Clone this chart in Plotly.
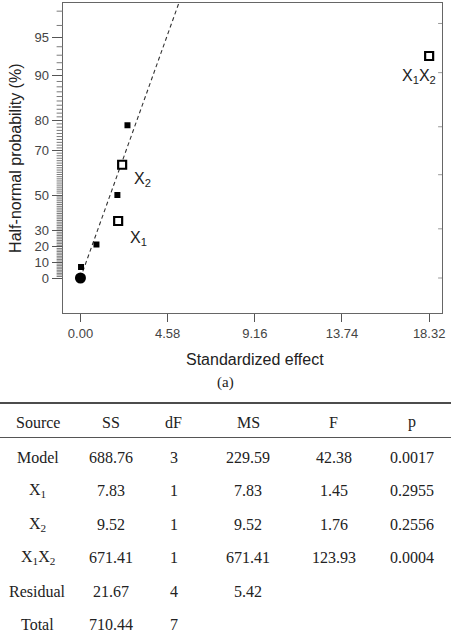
import plotly.graph_objects as go
from statistics import NormalDist

# ---------------- data ----------------
origin_effect = [0.0]
origin_prob = [0.0]

resid_effect = [0.03, 0.84, 1.94, 2.47]
resid_prob = [7.1, 21.4, 50.0, 78.6]

term_effect = [1.98, 2.19, 18.32]
term_prob = [35.7, 64.3, 92.9]
term_labels = ["X<sub>1</sub>", "X<sub>2</sub>", "X<sub>1</sub>X<sub>2</sub>"]

fit_slope = 0.4325          # half-normal quantile per unit effect
fit_effect_range = [0.0, 5.6]

x_tickvals = [0.0, 4.58, 9.16, 13.74, 18.32]
x_ticktext = ["0.00", "4.58", "9.16", "13.74", "18.32"]
y_major_pct = [0, 10, 20, 30, 50, 70, 80, 90, 95]
y_minor_pct = [p for p in range(1, 98) if p not in y_major_pct]
right_tick_z = [0.0, 0.40, 0.84, 1.23, 1.67, 2.07]

table_header = ["Source", "SS", "dF", "MS", "F", "p"]
table_source = ["Model", "X<sub>1</sub>", "X<sub>2</sub>", "X<sub>1</sub>X<sub>2</sub>", "Residual", "Total"]
table_ss = ["688.76", "7.83", "9.52", "671.41", "21.67", "710.44"]
table_df = ["3", "1", "1", "1", "4", "7"]
table_ms = ["229.59", "7.83", "9.52", "671.41", "5.42", ""]
table_f = ["42.38", "1.45", "1.76", "123.93", "", ""]
table_p = ["0.0017", "0.2955", "0.2556", "0.0004", "", ""]

# ---------------- helpers ----------------
nd = NormalDist()
def hn(pct):
    """half-normal probability scale: percent -> quantile"""
    return nd.inv_cdf(0.5 + pct / 200.0)

W, H = 454, 636
def px(x):
    return x / W
def py(y):
    return 1 - y / H

SANS = "Arial, Liberation Sans, Helvetica, sans-serif"
SERIF = "Times New Roman, Liberation Serif, serif"

PLOT_L, PLOT_R, PLOT_T, PLOT_B = 63, 445, 3, 313

x_dom = [px(PLOT_L), px(PLOT_R)]
y_dom = [py(PLOT_B), py(PLOT_T)]
ppu = (432 - 81) / 18.32
x_range = [(PLOT_L - 81) / ppu, (PLOT_R - 81) / ppu]
ypu = (278 - 37) / hn(95)
y_range = [(278 - PLOT_B) / ypu, (278 - PLOT_T) / ypu]

def z_to_paper(z):
    return y_dom[0] + (z - y_range[0]) / (y_range[1] - y_range[0]) * (y_dom[1] - y_dom[0])

fig = go.Figure()

# fitted dashed line
fig.add_trace(go.Scatter(
    x=fit_effect_range, y=[fit_slope * v for v in fit_effect_range],
    mode="lines", line=dict(color="#333", width=1.1, dash="4px,3px"),
    hoverinfo="skip", showlegend=False))

fig.add_trace(go.Scatter(
    x=origin_effect, y=[hn(p) for p in origin_prob], mode="markers",
    marker=dict(symbol="circle", size=11, color="black"), showlegend=False))

fig.add_trace(go.Scatter(
    x=resid_effect, y=[hn(p) for p in resid_prob], mode="markers",
    marker=dict(symbol="square", size=6, color="black"), showlegend=False))

fig.add_trace(go.Scatter(
    x=term_effect, y=[hn(p) for p in term_prob], mode="markers",
    marker=dict(symbol="square", size=8, color="white",
                line=dict(color="black", width=2.2)), showlegend=False))

ann = []
label_shift = [(10, -17, "left"), (10, -15, "left"), (-10, -20, "center")]
for xv, pv, lab, (dx, dy, anc) in zip(term_effect, term_prob, term_labels, label_shift):
    ann.append(dict(x=xv, y=hn(pv), xref="x", yref="y", text=lab, showarrow=False,
                    xanchor=anc, yanchor="middle", xshift=dx, yshift=dy,
                    font=dict(family=SANS, size=16, color="#222")))

# axis titles and caption
ann.append(dict(x=px(257), y=py(359), xref="paper", yref="paper",
                xanchor="center", yanchor="middle",
                text="Standardized effect", showarrow=False,
                font=dict(family=SANS, size=16, color="#222")))
ann.append(dict(x=px(15), y=py(158), xref="paper", yref="paper", textangle=-90,
                xanchor="center", yanchor="middle",
                text="Half-normal probability (%)", showarrow=False,
                font=dict(family=SANS, size=16, color="#222")))
ann.append(dict(x=px(227), y=py(382), xref="paper", yref="paper",
                xanchor="center", yanchor="middle",
                text="(a)", showarrow=False,
                font=dict(family=SERIF, size=15, color="#222")))

# table
col_x = [38, 112, 175, 250, 336, 415]
row_y = [457, 490.5, 524, 557.5, 591, 624.5]
for cx, h in zip(col_x, table_header):
    ann.append(dict(x=px(cx), y=py(422), xref="paper", yref="paper", text=h,
                    xanchor="center", yanchor="middle",
                    showarrow=False, font=dict(family=SERIF, size=16, color="#222")))
columns = [table_source, table_ss, table_df, table_ms, table_f, table_p]
for cx, col in zip(col_x, columns):
    for ry, val in zip(row_y, col):
        if val:
            ann.append(dict(x=px(cx), y=py(ry), xref="paper", yref="paper", text=val,
                            xanchor="center", yanchor="middle", showarrow=False,
                            font=dict(family=SERIF, size=16, color="#222")))

shapes = [
    dict(type="line", xref="paper", yref="paper", x0=0, x1=1, y0=py(403), y1=py(403),
         line=dict(color="#111", width=1.5)),
    dict(type="line", xref="paper", yref="paper", x0=0, x1=1, y0=py(437.5), y1=py(437.5),
         line=dict(color="#555", width=1)),
]
# minor probability ticks on the left axis
for p in y_minor_pct:
    yp = z_to_paper(hn(p))
    shapes.append(dict(type="line", xref="paper", yref="paper",
                       x0=px(PLOT_L - 6), x1=px(PLOT_L), y0=yp, y1=yp,
                       line=dict(color="#7a7a7a", width=1)))
# short ticks on the right frame
for z in right_tick_z:
    yp = z_to_paper(z)
    shapes.append(dict(type="line", xref="paper", yref="paper",
                       x0=px(PLOT_R - 4), x1=px(PLOT_R), y0=yp, y1=yp,
                       line=dict(color="#999", width=1)))

fig.update_layout(
    width=W, height=H, margin=dict(l=0, r=0, t=0, b=0),
    paper_bgcolor="white", plot_bgcolor="white", showlegend=False,
    xaxis=dict(domain=x_dom, range=x_range, tickmode="array",
               tickvals=x_tickvals, ticktext=x_ticktext,
               ticks="outside", ticklen=8, tickcolor="#555", tickwidth=1,
               showline=True, linecolor="#666", linewidth=1, mirror=True,
               showgrid=False, zeroline=False,
               tickfont=dict(family=SANS, size=13, color="#444")),
    yaxis=dict(domain=y_dom, range=y_range, tickmode="array",
               tickvals=[hn(p) for p in y_major_pct],
               ticktext=[str(p) for p in y_major_pct],
               ticks="outside", ticklen=10, tickcolor="#555", tickwidth=1,
               showline=True, linecolor="#666", linewidth=1, mirror=True,
               showgrid=False, zeroline=False,
               tickfont=dict(family=SANS, size=13, color="#444")),
    annotations=ann, shapes=shapes,
)

fig.write_html("out.html")
